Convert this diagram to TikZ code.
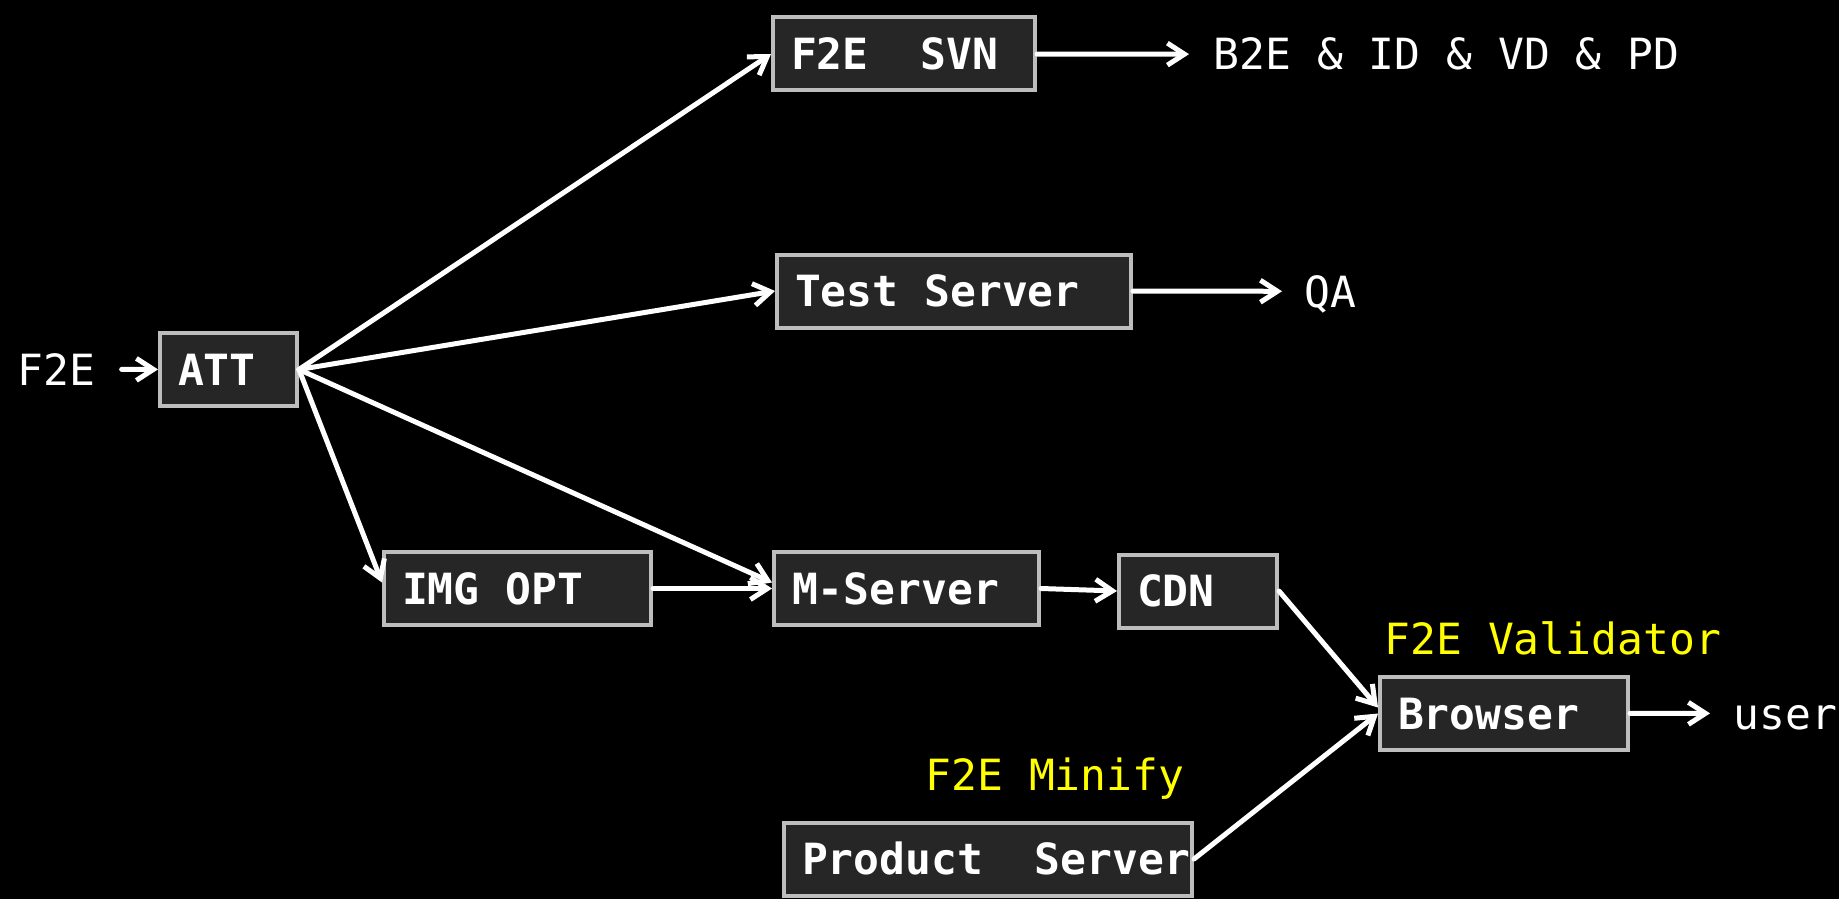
\documentclass[tikz,border=0pt]{standalone}
\usepackage{fontspec}
\setmonofont{DejaVu Sans Mono}
\usetikzlibrary{arrows.meta}
\definecolor{boxfill}{HTML}{262626}
\definecolor{boxline}{HTML}{BDBDBD}
\definecolor{memo}{HTML}{FFFF00}

\begin{document}
\begin{tikzpicture}[->, >={Straight Barb[length=8.5pt,width=11pt]}, x=0.5pt, y=-0.5pt, line width=2.5pt, draw=white, line cap=round,
    box/.style={draw=boxline, line width=2pt, fill=boxfill, anchor=west, align=left, inner xsep=9pt, minimum height=36.5pt,
      text height=15.7pt, text depth=0pt, text=white, font=\ttfamily\bfseries\fontsize{21.5}{25}\selectfont,
      execute at begin node={\spaceskip=0.602em\relax}},
    txt/.style={anchor=base west, inner sep=0pt, text height=15.7pt, text depth=0pt, text=white,
      font=\ttfamily\fontsize{21.5}{25}\selectfont},
    note/.style={txt, text=memo}]
      \fill[black] (0,0) rectangle (1839,899);
      \node [txt] (f2e) at (15,385) {F2E};
      \node [box,text width=50.5pt] (att) at (158,369.5) {ATT};
      \node [box,text width=113pt] (svn) at (771,54) {F2E\ \ SVN};
      \node [txt] (b2e) at (1211,70) {B2E \& ID \& VD \& PD};
      \node [box,text width=159pt] (test) at (775,291) {Test Server};
      \node [txt] (qa) at (1302,307) {QA};
      \node [box,text width=115.5pt] (img) at (382,588.5) {IMG OPT};
      \node [box,text width=114.5pt] (msrv) at (772,588.5) {M-Server};
      \node [box,text width=61pt] (cdn) at (1117,591) {CDN};
      \node [note] (valid) at (1382,654) {F2E Validator};
      \node [box,text width=106pt] (brw) at (1378,713.5) {Browser};
      \node [txt] (user) at (1731,729) {user};
      \node [note] (minify) at (923,790) {F2E Minify};
      \node [box,text width=186pt] (prod) at (782,859) {\mbox{Product\ \ Server}};
      \path
      (f2e) edge [shorten <=12pt] (att)
      (att.east) edge (svn.west)
      (att.east) edge (test.west)
      (att.east) edge ([yshift=3pt]msrv.west)
      (att.east) edge ([yshift=3pt]img.west)
      (svn) edge [shorten >=11pt] (b2e)
      (test) edge [shorten >=10pt] (qa)
      (img) edge (msrv)
      (msrv.east) edge (cdn.west)
      (cdn.east) edge ([yshift=3pt]brw.west)
      (prod.east) edge (brw.west)
      (brw) edge [shorten >=10.5pt] (user)
      ;
\end{tikzpicture}
\end{document}
